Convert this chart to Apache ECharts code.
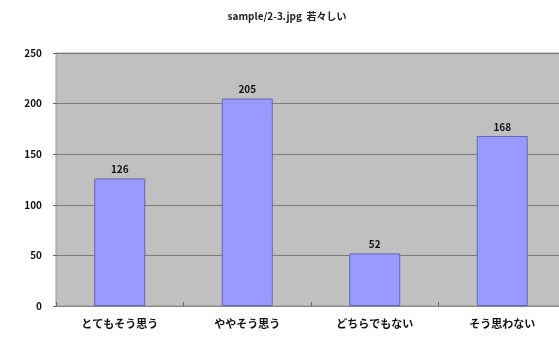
<!DOCTYPE html>
<html>
<head>
<meta charset="utf-8">
<script src="https://cdn.jsdelivr.net/npm/echarts@6/dist/echarts.min.js"></script>
<style>
html, body { margin: 0; padding: 0; background: #fff; }
#chart-container { width: 559px; height: 339px; }
</style>
</head>
<body>
<div id="chart-container"></div>
<script>
var categories = ["とてもそう思う", "ややそう思う", "どちらでもない", "そう思わない"];
var counts = [126, 205, 52, 168];
var yTicks = [0, 50, 100, 150, 200, 250];

var dom = document.getElementById("chart-container");
var myChart = echarts.init(dom, null, { renderer: "canvas" });
var font = '"Noto Sans CJK JP", "DejaVu Sans", sans-serif';

var option = {
  animation: false,
  title: {
    text: "sample/2-3.jpg  若々しい",
    left: 282,
    textAlign: "center",
    top: 6,
    textStyle: { fontSize: 10, fontWeight: "bold", color: "#222", fontFamily: font }
  },
  grid: {
    left: 56, width: 510, top: 53, bottom: 33,
    containLabel: false, outerBoundsMode: "none",
    show: true, backgroundColor: "#c0c0c0", borderColor: "#999", borderWidth: 1
  },
  xAxis: {
    type: "category",
    data: categories,
    axisLine: { lineStyle: { color: "#888" } },
    axisTick: { show: true, inside: true, length: 4, lineStyle: { color: "#666" } },
    axisLabel: { color: "#111", fontSize: 11, fontWeight: "bold", fontFamily: font, margin: 12 }
  },
  yAxis: {
    type: "value",
    min: yTicks[0],
    max: yTicks[yTicks.length - 1],
    interval: 50,
    axisLine: { show: false },
    axisTick: { show: true, length: 3, lineStyle: { color: "#666" } },
    axisLabel: { color: "#111", fontSize: 10, fontWeight: "bold", fontFamily: font, margin: 14 },
    splitLine: { lineStyle: { color: "#7a7a7a", width: 1 } }
  },
  series: [{
    type: "bar",
    data: counts,
    barWidth: "40%",
    itemStyle: { color: "#9999ff", borderColor: "#6666aa", borderWidth: 1 },
    label: { show: true, position: "top", color: "#111", fontSize: 10, fontWeight: "bold", fontFamily: font, distance: 4 }
  }]
};

myChart.setOption(option);
window.addEventListener("resize", myChart.resize);
</script>
</body>
</html>
